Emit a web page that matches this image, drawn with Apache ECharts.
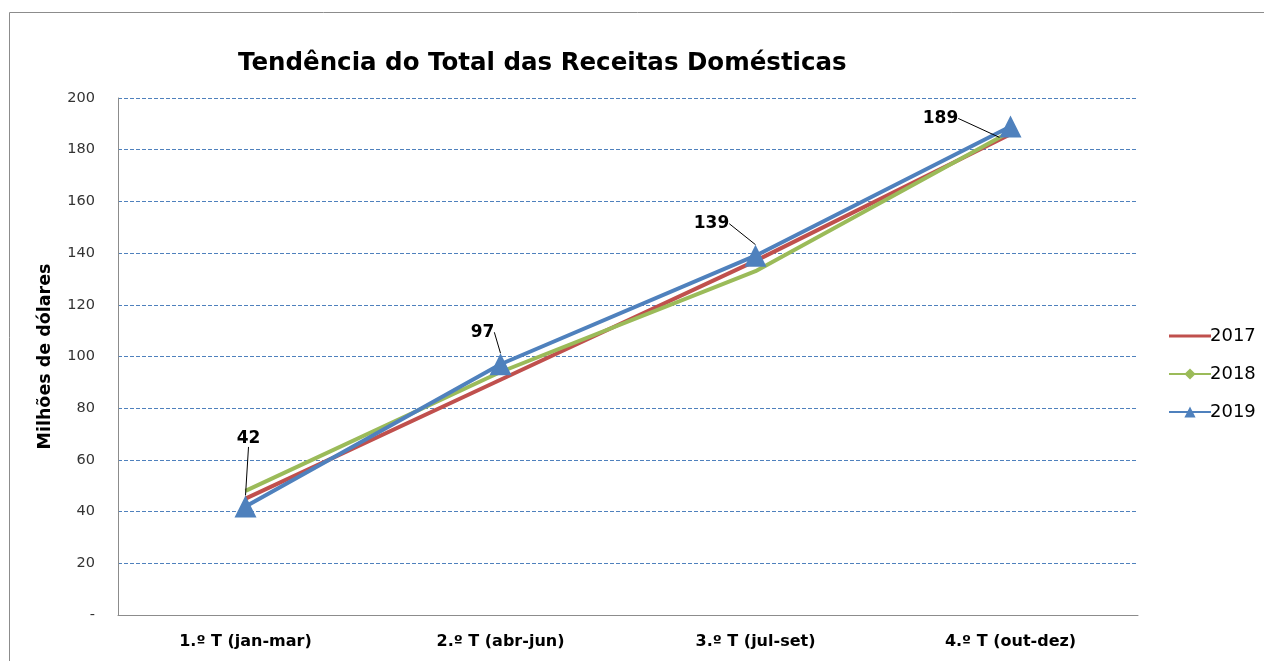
<!DOCTYPE html>
<html>
<head>
<meta charset="utf-8">
<script src="https://cdn.jsdelivr.net/npm/echarts@6/dist/echarts.min.js"></script>
<style>
  html, body { margin: 0; padding: 0; background: #fff; }
  #chart { width: 1264px; height: 661px; }
</style>
</head>
<body>
<div id="chart"></div>
<script>
const quarters = ["1.º T (jan-mar)", "2.º T (abr-jun)", "3.º T (jul-set)", "4.º T (out-dez)"];
const years = ["2017", "2018", "2019"];
const values2017 = [45, 91, 137, 186];
const values2018 = [48, 94, 133, 187];
const values2019 = [42, 97, 139, 189];

// label offsets (px) for the 2019 callouts
const labelOffsets = [[3, -68], [-18, -32], [-44, -32], [-70, -8]];

let myChart = echarts.init(document.getElementById("chart"));

const colors = ["#C0504D", "#9BBB59", "#4F81BD"];

let option = {
  animation: false,
  title: {
    text: "Tendência do Total das Receitas Domésticas",
    left: 233,
    top: 46,
    textStyle: { fontFamily: "DejaVu Sans", fontWeight: "bold", fontSize: 24.5, color: "#000" }
  },
  graphic: [{
    type: "rect",
    shape: { x: 9.5, y: 12.5, width: 1300, height: 700 },
    style: { fill: "none", stroke: "#8c8c8c", lineWidth: 1 }
  }],
  grid: { left: 118, top: 98, width: 1020, height: 517 },
  legend: {
    orient: "vertical",
    left: 1163,
    top: 322,
    itemGap: 20,
    itemWidth: 42,
    itemHeight: 14,
    data: [
      { name: "2017", icon: "path://M0,0 L0.01,0 M0,5.5 L42,5.5 L42,8.5 L0,8.5 Z M0,14 L0.01,14" },
      "2018",
      "2019"
    ],
    textStyle: { fontFamily: "Verdana, DejaVu Sans", fontSize: 18, color: "#000", padding: [0, 0, 0, -6] }
  },
  xAxis: {
    type: "category",
    data: quarters,
    axisLine: { lineStyle: { color: "#8c8c8c" } },
    axisTick: { show: false },
    axisLabel: { fontFamily: "DejaVu Sans", fontWeight: "bold", fontSize: 16, color: "#000", margin: 19 }
  },
  yAxis: {
    type: "value",
    min: 0,
    max: 200,
    interval: 20,
    name: "Milhões de dólares",
    nameLocation: "middle",
    nameGap: 64,
    nameTextStyle: { fontFamily: "DejaVu Sans", fontWeight: "bold", fontSize: 17.5, color: "#000" },
    axisLine: { show: true, lineStyle: { color: "#8c8c8c" } },
    axisTick: { show: false },
    axisLabel: {
      fontFamily: "DejaVu Sans", fontSize: 14.5, color: "#333", margin: 23,
      formatter: v => v === 0 ? "-" : v
    },
    splitLine: { lineStyle: { color: "#4F81BD", type: [4, 2], width: 1 } }
  },
  series: [
    {
      name: "2017", type: "line", data: values2017,
      symbol: "none",
      lineStyle: { width: 4, color: colors[0] },
      itemStyle: { color: colors[0] }
    },
    {
      name: "2018", type: "line", data: values2018,
      symbol: "diamond", symbolSize: 10, showSymbol: false,
      lineStyle: { width: 4, color: colors[1] },
      itemStyle: { color: colors[1] }
    },
    {
      name: "2019", type: "line", data: values2019,
      symbol: "triangle", symbolSize: 22,
      lineStyle: { width: 4, color: colors[2] },
      itemStyle: { color: colors[2] },
      label: {
        show: true,
        position: "inside",
        fontFamily: "DejaVu Sans", fontWeight: "bold", fontSize: 17, color: "#000"
      },
      labelLine: { show: true, lineStyle: { color: "#000", width: 1 } },
      labelLayout: p => ({ dx: labelOffsets[p.dataIndex][0], dy: labelOffsets[p.dataIndex][1] })
    }
  ]
};
myChart.setOption(option);
</script>
</body>
</html>
